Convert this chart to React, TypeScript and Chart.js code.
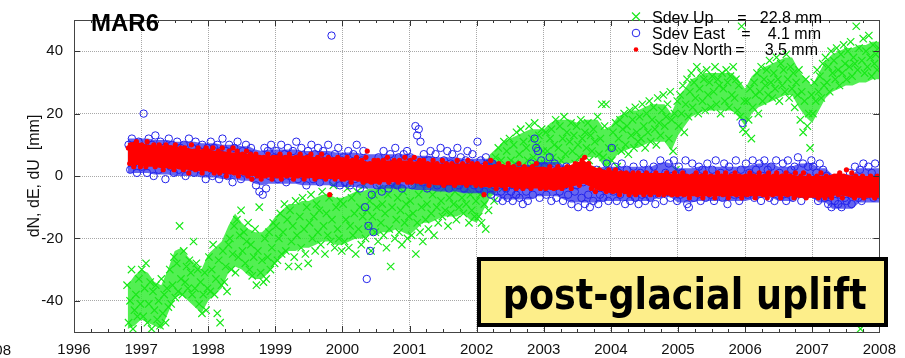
import React, { useEffect, useRef } from "react";
import { Chart, registerables } from "chart.js";
Chart.register(...registerables);

// ---------- labels ----------
const stationName = "MAR6";
const boxText = "post-glacial uplift";
const yTitle = "dN, dE, dU  [mm]";
const xTickValues = [1996, 1997, 1998, 1999, 2000, 2001, 2002, 2003, 2004, 2005, 2006, 2007, 2008];
const yTickValues = [-40, -20, 0, 20, 40];
const legendLabels = ["Sdev Up", "Sdev East", "Sdev North"];
const legendValues = ["22.8 mm", "4.1 mm", "3.5 mm"];

// ---------- Up (green) values, per year, evenly sampled ----------
const up1996 = [-35, -47, -40, -30, -49, -43, -38, -45, -33, -41];
const up1997 = [-30, -45, -36, -28, -47, -41, -34, -49, -37, -43, -35, -46, -40, -48, -33, -44, -38, -47, -36, -42, -30, -41, -35, -26, -39, -28, -37, -16, -33, -38, -24, -34, -29, -36, -27, -31, -38, -21, -36, -28, -30, -41, -34, -44, -38, -31, -43, -36];
const up1998 = [-26, -37, -30, -22, -38, -33, -44, -27, -47, -35, -24, -34, -29, -37, -22, -20, -30, -25, -16, -31, -14, -26, -19, -11, -24, -18, -28, -21, -15, -30, -22, -32, -26, -17, -35, -24, -10, -31, -27, -34, -20, -33, -26, -18, -30, -23, -15, -28];
const up1999 = [-16, -27, -20, -12, -25, -18, -9, -24, -14, -29, -11, -21, -16, -26, -8, -19, -29, -13, -23, -7, -17, -25, -10, -28, -15, -6, -20, -13, -24, -9, -18, -11, -22, -5, -16, -25, -12, -19, -7, -21, -14, -3, -23, -10, -17, -20, -8, -24];
const up2000 = [-9, -21, -14, -4, -23, -16, -7, -19, -12, -25, -5, -17, -10, -22, -13, -3, -20, -11, -16, -8, -24, -13, -6, -18, -10, -21, -4, -15, -9, -19, -12, -23, -6, -17, -29, -10, -3, -20, -14, -7, -18, -11, -22, -5, -15, -9, -20, -13];
const up2001 = [-8, -19, -12, -2, -25, -15, -6, -18, -10, -21, -4, -14, -9, -17, -1, -12, -6, -19, -3, -10, -15, 0, -8, -13, -4, -11, -2, -16, -7, -12, 1, -9, -5, -14, -3, -10, 2, -7, -12, -1, -9, -4, -15, -6, -11, -2, -13, -8];
const up2002 = [-3, -13, -6, -15, -1, -9, -17, -2, -11, 4, -5, 3, -8, 6, -2, 9, -1, 5, -4, 11, 2, 8, -3, 12, 5, 0, 10, 4, 14, 1, 7, 15, 3, 11, -1, 9, 5, 16, 2, 12, 6, 17, 3, 10, 13, 4, 15, 8];
const up2003 = [4, 14, 8, 1, 12, 15, 6, 10, 18, 3, 9, 16, 5, 12, 19, 7, 14, 2, 11, 17, 8, 13, 4, 16, 10, 6, 18, 12, 3, 14, 9, 17, 5, 13, 8, 15, 11, 2, 19, 7, 12, 23, 6, 16, 23, 3, 9, 1];
const up2004 = [5, 14, 9, 17, 3, 12, 18, 8, 15, 20, 10, 16, 7, 21, 13, 18, 9, 22, 14, 11, 19, 12, 23, 16, 9, 20, 14, 24, 11, 18, 22, 15, 10, 25, 17, 13, 21, 26, 16, 19, 23, 12, 27, 18, 8, 20, 2, 24];
const up2005 = [16, 26, 20, 29, 14, 23, 31, 19, 27, 33, 22, 30, 25, 35, 20, 28, 33, 24, 31, 21, 34, 26, 30, 22, 32, 27, 35, 23, 31, 29, 20, 33, 28, 24, 34, 30, 22, 32, 26, 35, 25, 31, 21, 29, 19, 48, 15, 24];
const up2006 = [14, 24, 18, 28, 12, 22, 30, 26, 33, 20, 27, 35, 24, 31, 29, 34, 26, 37, 30, 25, 33, 28, 38, 31, 24, 36, 29, 34, 27, 39, 31, 25, 35, 28, 33, 22, 30, 26, 34, 18, 27, 14, 24, 31, 16, 20, 9, 26];
const up2007 = [20, 30, 24, 34, 27, 32, 25, 36, 29, 38, 30, 35, 27, 40, 33, 37, 31, 41, 34, 29, 39, 33, 42, 36, 31, 40, 35, 43, 32, 38, 36, 48, 34, 41, -49, 37, 44, 33, 40, 35, 45, 38, 32, 42, 36, 39, 34, 41];

// ---------- East (blue) values ----------
const ea1996 = [10, 2, 12, 4, 8, 1, 11, 6];
const ea1997 = [3, 20, 9, 1, 12, 5, 10, 0, 13, 7, 2, 11, 4, 9, -1, 8, 12, 3, 10, 1, 6, 11, 2, 9, 4, 10, 0, 7, 12, 3, 9, 1, 11, 5, 8, 2, 10, 4, -1, 9];
const ea1998 = [5, 11, 0, 9, 3, 10, -1, 7, 12, 2, 8, 0, 10, 4, -2, 9, 2, 11, 6, -1, 8, 3, 10, 1, 7, 9, 0, 5, -3, 4, -5, 1, -6, 9, -4, 8, 0, 10, 2, 6];
const ea1999 = [8, -1, 6, 10, 1, 7, -2, 9, 3, 0, 8, 2, 11, -1, 6, 9, 0, 5, -3, 8, 3, 10, -1, 7, 1, 9, -2, 5, 8, 0, 6, 10, 1, 45, -2, 7, 3, 9, -3, 5];
const ea2000 = [6, -2, 4, 8, -3, 3, 7, -1, 10, 2, -4, 5, 8, -10, -33, -16, -24, -6, -18, 4, -3, 6, 1, -5, 8, 0, 5, -4, 7, -2, 4, 9, -3, 6, 1, -4, 7, 2, 8, -1];
const ea2001 = [6, -3, 4, 16, 13, 15, 11, -2, 7, 1, -4, 5, 8, -1, 3, 7, -3, 2, 9, -2, 5, 0, 8, -4, 4, 7, -1, 3, 9, -3, 6, 1, -4, 5, 8, -2, 4, 7, -3, 2];
const ea2002 = [11, -4, 5, 1, -5, 6, -2, 3, -6, 4, -3, 2, -7, 1, -5, -8, 0, -4, -7, 2, -5, -8, -1, -6, 3, -7, -3, -9, 0, -5, -8, -2, 4, -6, 12, 9, 8, -7, 5, -3];
const ea2003 = [3, -6, 1, 6, -8, -2, 4, -7, 0, -5, 2, -8, -3, 3, -6, -1, -9, 2, -5, -3, -10, 1, -7, -2, -9, 3, -6, -10, 0, -8, -4, 2, -9, -6, 1, -7, -3, 4, -8, -1];
const ea2004 = [9, -5, 3, -8, 1, -6, 4, -2, -9, 2, -4, -8, 0, 3, -7, -3, -9, 1, -6, 4, -8, -2, 2, -7, -4, 3, -9, -1, -6, 5, -3, -8, 1, -5, 4, -7, 0, 5, -4, -8];
const ea2005 = [3, -6, 1, -4, 5, -9, -10, -2, 4, -7, 0, -5, 3, -8, 2, -3, -7, 4, -1, -6, 2, -8, 5, -3, -5, 1, -7, 4, -2, -9, 3, -4, 0, -6, 5, -3, -8, 2, 17, -5];
const ea2006 = [4, -6, 1, -3, 5, -7, 2, -4, 4, -8, 0, 5, -5, 2, -7, 3, -2, -8, 5, -4, 1, -6, 4, -1, -8, 5, -3, 2, -7, 3, -5, 6, -2, -8, 4, 0, -6, 3, -4, 5];
const ea2007 = [3, -6, 1, -8, 4, -4, 2, -7, 0, -9, -6, -10, -5, -8, -3, -9, -6, -10, -4, -7, -8, -5, 1, -9, -6, 3, -4, -7, 2, -8, 4, -2, -6, 3, -5, 1, -7, 4, -3, -6];

// ---------- North (red) values ----------
const no1996 = [9, 4, 10, 6, 3, 8, 11, 5, 7, 3];
const no1997 = [10, 4, 8, 3, 11, 6, 9, 4, 7, 10, 3, 8, 5, 10, 4, 9, 2, 7, 10, 5, 8, 3, 9, 6, 2, 10, 5, 8, 3, 9, 6, 2, 9, 4, 8, 1, 7, 10, 4, 8, 2, 7, 9, 3, 6, 1, 8, 5, 9, 3];
const no1998 = [8, 2, 6, 9, 1, 7, 4, 8, 1, 6, 9, 3, 7, 0, 5, 8, 2, 6, 9, 1, 5, 8, 0, 6, 3, 7, 1, 5, 8, 0, 4, 7, -1, 5, 2, 7, 0, 4, 6, -1, 3, 6, 0, 5, 7, 1, 4, -1, 6, 2];
const no1999 = [6, 0, 4, 7, -1, 5, 2, 6, 0, 4, 7, 1, 5, -1, 3, 6, 0, 4, 7, 1, 5, -1, 3, 6, 0, 4, 7, 1, 5, -1, 3, 6, 0, 4, 7, 1, 5, -1, 3, 6, -6, 4, 0, 5, -1, 3, 6, 1, 4, -1];
const no2000 = [5, -1, 3, 6, 0, 4, -2, 5, 1, 3, 6, -1, 4, 0, 5, -2, 3, 6, 8, 1, 4, -2, 3, 5, -1, 2, 5, -2, 4, 0, 5, -1, 3, 6, -2, 2, 4, -1, 5, 1, 3, -2, 5, 0, 4, -1, 6, 2, -2, 4];
const no2001 = [5, -2, 3, 6, -1, 4, 0, 5, -2, 3, 5, -1, 2, 4, -3, 3, 1, 5, -2, 2, 4, -2, 3, 0, 5, -3, 2, 4, -1, 3, -2, 4, 1, -3, 3, 5, -1, 2, -2, 4, 0, 3, -3, 5, 1, -2, 4, -1, 2, -3];
const no2002 = [4, -2, 3, -3, 1, -6, 4, -1, 2, -3, 5, 0, -2, 3, -4, 2, 4, -1, -3, 3, 0, -4, 2, 4, -2, 1, -3, 3, -1, -4, 2, 4, -2, 0, -4, 3, 1, -3, 2, -1, -4, 3, 0, -2, 4, -3, 1, -4, 2, 0];
const no2003 = [2, -4, 1, -3, 3, -2, 0, -4, 2, -1, 3, -3, 1, -4, 2, 0, -3, 3, -2, 1, -4, 2, 0, 4, -2, 3, -3, 1, 5, -1, 6, 3, -2, 4, 0, -4, 2, -1, -5, 1, -3, 2, -4, 0, -2, 1, -5, -1, 2, -4];
const no2004 = [1, -5, -1, 2, -4, 0, -6, 1, -3, -1, -5, 1, -2, -6, 0, -4, 1, -3, -6, -1, 1, -5, -2, 0, -6, -3, 1, -4, -1, -6, 0, -3, -5, 1, -2, -6, -1, 0, -4, -6, -1, 1, -5, -3, 0, -6, -2, 1, -4, -6];
const no2005 = [0, -5, -2, 1, -6, -3, 0, -4, -7, -1, 0, -5, -3, 1, -6, -2, -4, 0, -7, -3, 1, -5, -2, -6, 0, -4, -1, -7, -3, 1, -5, -2, 0, -6, -3, 1, -4, -7, -1, 0, -5, -3, 1, -6, -2, 0, -4, -7, -1, -3];
const no2006 = [0, -6, -2, 1, -5, -3, 0, -7, -1, -4, 1, -5, -2, -6, 0, -3, -7, 1, -4, -1, -6, 0, -3, 1, -5, -2, -7, 0, -4, -1, 1, -6, -3, 0, -5, -2, -7, 1, -4, -1, -6, 0, -3, 1, -5, -7, -2, 0, -4, -6];
const no2007 = [-1, -6, -3, 0, -7, -4, 1, -5, -2, -7, 0, -4, -6, -1, -7, -3, 0, -5, -2, -6, 1, -4, -7, 0, -3, 2, -5, -1, -6, 1, -3, -7, 0, -4, -6, -1, -5, 0, -7, -3, -1, -6, -4, 0, -5, -2, -7, -3, 0, -5];

// ---------- dense-core envelopes, every 0.1 yr from 1996.8 to 2008.0 ----------
const bandStart = 1996.8;
const bandStep = 0.1;
const upHigh = [-35, -32, -30, -31, -34, -35, -30, -24, -23, -26, -28, -30, -25, -23, -21, -16, -12, -15, -17, -18, -18, -16, -13, -11, -9, -9, -8, -8, -7, -6, -6, -7, -7, -6, -5, -5, -4, -4, -3, -3, -2, -3, -4, -2, -1, 0, 1, 1, 2, 2, 2, 0, -1, 3, 7, 9, 11, 12, 13, 14, 15, 15, 15, 17, 18, 18, 18, 17, 18, 18, 18, 15, 16, 19, 20, 21, 21, 22, 23, 23, 23, 20, 25, 28, 31, 32, 33, 33, 33, 33, 33, 31, 28, 32, 34, 35, 36, 37, 38, 38, 34, 31, 29, 33, 37, 39, 40, 41, 41, 42, 42, 43, 43];
const upLow = [-49, -48, -46, -47, -48, -49, -44, -39, -38, -40, -42, -44, -40, -38, -36, -31, -29, -30, -32, -33, -33, -31, -28, -26, -24, -24, -23, -23, -22, -21, -21, -22, -22, -21, -20, -20, -19, -19, -18, -18, -17, -18, -19, -17, -15, -15, -14, -13, -13, -13, -12, -14, -15, -11, -7, -5, -3, -2, -1, 0, 1, 1, 1, 3, 4, 4, 4, 5, 6, 6, 6, 3, 4, 7, 8, 9, 9, 10, 11, 11, 11, 8, 13, 16, 19, 20, 21, 21, 21, 21, 21, 19, 16, 20, 22, 23, 24, 25, 26, 26, 22, 19, 17, 21, 25, 27, 28, 29, 29, 30, 30, 31, 31];
const eastHigh = [12, 12, 12, 12, 11.5, 11.5, 11.5, 11, 11, 11, 11, 10.5, 10.5, 10.5, 10, 10, 10, 9.5, 9.5, 8.5, 8, 8.5, 8.5, 8.5, 8.5, 8.5, 8, 8, 8, 8, 8, 7.5, 7.5, 7.5, 7.5, 7, 7, 7, 7, 7, 7, 7, 7, 6.5, 6.5, 6.5, 6, 6, 6, 6, 5.5, 5.5, 5.5, 5.5, 5.5, 4.5, 3.5, 3.5, 3.5, 3.5, 3.5, 4.5, 4.5, 4.5, 4.5, 3.5, 2.5, 2.5, 2.5, 2.5, 2.5, 3, 3, 3, 3, 3, 3, 3, 3, 4, 4.5, 4, 2.5, 2.5, 2.5, 3, 3, 3, 3, 3, 3, 3, 3, 3.5, 4, 4, 4, 3, 3, 3, 4, 4, 4, 2.5, 2.5, 0.5, 0.5, 0.5, 0.5, 2.5, 2.5, 2.5, 2.5];
const eastLow = [1, 1, 1, 1, 0.5, 0.5, 0.5, 0, 0, 0, 0, -0.5, -0.5, -0.5, -1, -1, -1, -1.5, -1.5, -2.5, -3, -2.5, -2.5, -2.5, -2.5, -2.5, -3, -3, -3, -3, -3, -3.5, -3.5, -3.5, -3.5, -4, -4, -4, -4, -4, -4, -4, -4, -4.5, -4.5, -4.5, -5, -5, -5, -5, -5.5, -5.5, -5.5, -5.5, -5.5, -6.5, -7.5, -7.5, -7.5, -7.5, -7.5, -6.5, -6.5, -6.5, -6.5, -7.5, -8.5, -8.5, -8.5, -8.5, -8.5, -8, -8, -8, -8, -8, -8, -8, -8, -7, -6.5, -7, -8.5, -8.5, -8.5, -8, -8, -8, -8, -8, -8, -8, -8, -7.5, -7, -7, -7, -8, -8, -8, -7, -7, -7, -8.5, -8.5, -10.5, -10.5, -10.5, -10.5, -8.5, -8.5, -8.5, -8.5];
const northHigh = [10.5, 11, 10.5, 10, 10, 9.5, 10, 9.5, 9, 9, 8.5, 8.5, 8.5, 8, 8, 7.5, 7.5, 7.5, 7, 7, 6.5, 6.5, 6.5, 6.5, 6.5, 6.5, 6.5, 6.5, 6, 6, 6, 6, 6, 5.5, 5.5, 5, 4.5, 4.5, 5, 5, 5, 5, 5, 4.5, 4.5, 4.5, 4, 4, 4, 4, 4, 4, 4, 3.5, 3.5, 3.5, 3.5, 3.5, 3, 3, 3, 3, 3, 2.5, 2.5, 3, 3.5, 4.5, 5, 3.5, 2.5, 2, 1.5, 1.5, 1.5, 1, 1, 1, 1, 1, 1, 0.5, 0.5, 0.5, 0.5, 0.5, 0.5, 0.5, 0.5, 0.5, 0.5, 0.5, 0.5, 0.5, 0.5, 0.5, 0.5, 0.5, 0.5, 0.5, 0, 0, 0, 0, 0, 0.5, 1, 0.5, 0, 0, 0, 0, 0];
const northLow = [3.5, 3.5, 3.5, 3, 3, 2.5, 2.5, 2.5, 2, 2, 1.5, 1.5, 1.5, 1, 1, 0.5, 0.5, 0.5, 0, 0, -0.5, -0.5, -0.5, -0.5, -0.5, -0.5, -0.5, -0.5, -1, -1, -1, -1, -1, -1.5, -1.5, -2, -2.5, -2.5, -2, -2, -2, -2, -2, -2.5, -2.5, -2.5, -3, -3, -3, -3, -3, -3, -3, -3.5, -3.5, -3.5, -3.5, -3.5, -4, -4, -4, -4, -4, -4.5, -4.5, -4, -3.5, -3, -2.5, -3.5, -4.5, -5, -5.5, -5.5, -5.5, -6, -6, -6, -6, -6, -6, -6.5, -6.5, -6.5, -6.5, -6.5, -6.5, -6.5, -6.5, -6.5, -6.5, -6.5, -6.5, -6.5, -6.5, -6.5, -6.5, -6.5, -6.5, -6.5, -7, -7, -7, -7, -7, -6.5, -6, -6.5, -7, -7, -7, -7, -7];

// segments: [start, end, values]
type Seg = [number, number, number[]];
const upSegments: Seg[] = [
  [1996.78, 1997, up1996], [1997, 1998, up1997], [1998, 1999, up1998], [1999, 2000, up1999],
  [2000, 2001, up2000], [2001, 2002, up2001], [2002, 2003, up2002], [2003, 2004, up2003],
  [2004, 2005, up2004], [2005, 2006, up2005], [2006, 2007, up2006], [2007, 2008, up2007],
];
const eastSegments: Seg[] = [
  [1996.8, 1997, ea1996], [1997, 1998, ea1997], [1998, 1999, ea1998], [1999, 2000, ea1999],
  [2000, 2001, ea2000], [2001, 2002, ea2001], [2002, 2003, ea2002], [2003, 2004, ea2003],
  [2004, 2005, ea2004], [2005, 2006, ea2005], [2006, 2007, ea2006], [2007, 2008, ea2007],
];
const northSegments: Seg[] = [
  [1996.8, 1997, no1996], [1997, 1998, no1997], [1998, 1999, no1998], [1999, 2000, no1999],
  [2000, 2001, no2000], [2001, 2002, no2001], [2002, 2003, no2002], [2003, 2004, no2003],
  [2004, 2005, no2004], [2005, 2006, no2005], [2006, 2007, no2006], [2007, 2008, no2007],
];

function toPoints(segs: Seg[]) {
  const pts: { x: number; y: number }[] = [];
  for (const [s, e, vals] of segs) {
    const step = (e - s) / vals.length;
    vals.forEach((v, i) => pts.push({ x: s + (i + 0.5) * step, y: v }));
  }
  return pts;
}
function bandPoints(vals: number[]) {
  return vals.map((v, i) => ({ x: bandStart + i * bandStep, y: v }));
}

const GREEN = "rgb(25,232,25)";
const BLUE = "rgb(35,35,235)";
const RED = "rgb(255,0,0)";
const FONT = "'Liberation Sans', Arial, Helvetica, sans-serif";

function band(data: number[], color: string, fill: any, order: number) {
  return {
    type: "line",
    data: bandPoints(data),
    borderWidth: 0,
    borderColor: "rgba(0,0,0,0)",
    backgroundColor: color,
    pointRadius: 0,
    tension: 0,
    fill,
    order,
    clip: 0,
  } as any;
}

const overlay = {
  id: "overlay",
  afterDatasetsDraw(chart: any) {
    const { ctx, chartArea: a, scales } = chart;
    const xs = scales.x, ys = scales.y;
    ctx.save();
    ctx.strokeStyle = "#333";
    ctx.lineWidth = 1;
    ctx.beginPath();
    for (let y = 1996; y <= 2008; y++) {
      for (let q = 0; q < 4; q++) {
        const v = y + q / 4;
        if (v > 2008) break;
        const px = Math.round(xs.getPixelForValue(v)) + 0.5;
        const len = q === 0 ? 6 : 3;
        ctx.moveTo(px, a.bottom); ctx.lineTo(px, a.bottom - len);
        ctx.moveTo(px, a.top); ctx.lineTo(px, a.top + len);
      }
    }
    for (const v of yTickValues) {
      const py = Math.round(ys.getPixelForValue(v)) + 0.5;
      ctx.moveTo(a.left, py); ctx.lineTo(a.left + 6, py);
      ctx.moveTo(a.right, py); ctx.lineTo(a.right - 6, py);
    }
    ctx.stroke();
    ctx.strokeStyle = "#444";
    ctx.strokeRect(Math.round(a.left) + 0.5, Math.round(a.top) + 0.5, Math.round(a.right - a.left), Math.round(a.bottom - a.top));
    ctx.restore();
  },
  afterDraw(chart: any) {
    const { ctx } = chart;
    ctx.save();
    ctx.fillStyle = "#000";
    ctx.font = `bold 24px ${FONT}`;
    ctx.textAlign = "left";
    ctx.textBaseline = "alphabetic";
    ctx.fillText(stationName, 91, 31);

    // legend
    const baselines = [22.5, 39, 55];
    const symY = [16.5, 33, 49.5];
    const eqX = [742, 746, 740];
    const valR = [822, 821, 818];
    ctx.font = `16px ${FONT}`;
    for (let i = 0; i < 3; i++) {
      ctx.fillStyle = "#000";
      ctx.textAlign = "left";
      ctx.fillText(legendLabels[i], 652, baselines[i]);
      ctx.textAlign = "center";
      ctx.fillText("=", eqX[i], baselines[i]);
      ctx.textAlign = "right";
      ctx.fillText(legendValues[i], valR[i], baselines[i]);
    }
    const sx = 636;
    ctx.lineWidth = 1.2;
    ctx.strokeStyle = GREEN;
    ctx.beginPath();
    ctx.moveTo(sx - 4, symY[0] - 4); ctx.lineTo(sx + 4, symY[0] + 4);
    ctx.moveTo(sx - 4, symY[0] + 4); ctx.lineTo(sx + 4, symY[0] - 4);
    ctx.stroke();
    ctx.lineWidth = 1;
    ctx.strokeStyle = BLUE;
    ctx.beginPath();
    ctx.arc(sx, symY[1], 3.8, 0, Math.PI * 2);
    ctx.stroke();
    ctx.fillStyle = RED;
    ctx.beginPath();
    ctx.arc(sx, symY[2], 2.3, 0, Math.PI * 2);
    ctx.fill();

    // annotation box
    ctx.fillStyle = "#fdee8a";
    ctx.fillRect(477, 257, 411, 70);
    ctx.strokeStyle = "#000";
    ctx.lineWidth = 4;
    ctx.strokeRect(479, 259, 407, 66);
    ctx.fillStyle = "#000";
    ctx.font = `bold 43px 'DejaVu Sans', Verdana, sans-serif`;
    ctx.textAlign = "left";
    const w = ctx.measureText(boxText).width;
    ctx.translate(502.7, 308.5);
    ctx.scale(364 / w, 1);
    ctx.fillText(boxText, 0, 0);
    ctx.restore();

    // cut-off label of the neighbouring panel at the far left
    ctx.save();
    ctx.font = `15px ${FONT}`;
    ctx.fillStyle = "#111";
    ctx.textAlign = "right";
    ctx.textBaseline = "alphabetic";
    ctx.fillText(String(xTickValues[xTickValues.length - 1]), 11, 354.5);
    ctx.restore();
  },
};

export default function App() {
  const ref = useRef<HTMLCanvasElement | null>(null);
  useEffect(() => {
    document.body.style.margin = "0";
    const canvas = ref.current!;
    const chart = new Chart(canvas, {
      type: "scatter",
      data: {
        datasets: [
          band(upHigh, "rgba(40,235,40,0.8)", 1, 9),
          band(upLow, "rgba(0,0,0,0)", false, 9),
          {
            label: legendLabels[0],
            data: toPoints(upSegments),
            pointStyle: "crossRot",
            radius: 5.2,
            borderColor: GREEN,
            backgroundColor: GREEN,
            borderWidth: 1.2,
            order: 8,
            clip: 0,
          } as any,
          band(eastHigh, "rgba(35,35,235,0.7)", 4, 7),
          band(eastLow, "rgba(0,0,0,0)", false, 7),
          {
            label: legendLabels[1],
            data: toPoints(eastSegments),
            pointStyle: "circle",
            radius: 3.7,
            borderColor: BLUE,
            backgroundColor: "rgba(0,0,0,0)",
            borderWidth: 1,
            order: 6,
            clip: 0,
          } as any,
          band(northHigh, RED, 7, 5),
          band(northLow, "rgba(0,0,0,0)", false, 5),
          {
            label: legendLabels[2],
            data: toPoints(northSegments),
            pointStyle: "circle",
            radius: 2.6,
            borderWidth: 0,
            borderColor: RED,
            backgroundColor: RED,
            order: 4,
            clip: 0,
          } as any,
        ],
      },
      options: {
        responsive: false,
        animation: false,
        events: [],
        layout: { padding: { top: 5, right: 20, left: 0, bottom: 0 } },
        plugins: {
          legend: { display: false },
          tooltip: { enabled: false },
          title: { display: false },
          filler: { propagate: false },
        },
        scales: {
          x: {
            type: "linear",
            min: 1996,
            max: 2008,
            afterBuildTicks: (s: any) => {
              s.ticks = xTickValues.map((v) => ({ value: v }));
            },
            afterFit: (s: any) => {
              s.height = 26;
            },
            grid: { color: "#a8a8a8", lineWidth: 1, drawTicks: false },
            border: { display: false, dash: [1, 1] },
            ticks: {
              font: { family: FONT, size: 15 },
              color: "#111",
              padding: 9,
              maxRotation: 0,
              autoSkip: false,
              callback: (v: any) => String(v),
            },
          },
          y: {
            type: "linear",
            min: -50,
            max: 50,
            afterBuildTicks: (s: any) => {
              s.ticks = yTickValues.map((v) => ({ value: v }));
            },
            afterFit: (s: any) => {
              s.width = 74;
            },
            grid: { color: "#a8a8a8", lineWidth: 1, drawTicks: false },
            border: { display: false, dash: [1, 1] },
            ticks: {
              font: { family: FONT, size: 15 },
              color: "#111",
              padding: 11,
              callback: (v: any) => String(v),
            },
            title: {
              display: true,
              text: yTitle,
              font: { family: FONT, size: 16 },
              color: "#111",
              padding: { top: 25, bottom: 0 },
            },
          },
        },
      },
      plugins: [overlay],
    });
    return () => chart.destroy();
  }, []);
  return <canvas ref={ref} width={905} height={358} style={{ display: "block" }} />;
}
